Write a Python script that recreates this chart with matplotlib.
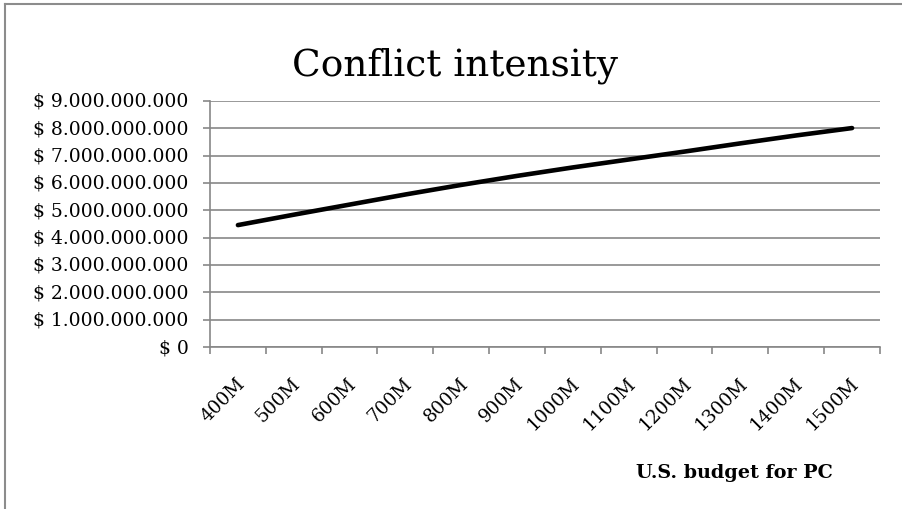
import matplotlib
matplotlib.use("Agg")
import matplotlib.pyplot as plt
from matplotlib.ticker import FuncFormatter, FixedLocator
from matplotlib.transforms import ScaledTranslation
from matplotlib.lines import Line2D

categories = ["400M", "500M", "600M", "700M", "800M", "900M", "1000M",
              "1100M", "1200M", "1300M", "1400M", "1500M"]
conflict_cost = [4.46e9, 4.84e9, 5.21e9, 5.58e9, 5.93e9, 6.26e9, 6.57e9,
                 6.86e9, 7.15e9, 7.45e9, 7.74e9, 8.01e9]
y_ticks = [0, 1e9, 2e9, 3e9, 4e9, 5e9, 6e9, 7e9, 8e9, 9e9]
title = "Conflict intensity"
x_title = "U.S. budget for PC"

plt.rcParams['font.family'] = ['DejaVu Serif']
GRAY = "#878787"

W, H, DPI = 903, 510, 100
fig = plt.figure(figsize=(W / DPI, H / DPI), dpi=DPI)
ax = fig.add_axes([210 / W, 1 - 348 / H, 670 / W, 246 / H])

x = list(range(len(categories)))
ax.plot(x, conflict_cost, color="black", linewidth=3.3, solid_capstyle="round")

ax.set_xlim(-0.5, len(categories) - 0.5)
ax.set_ylim(0, 9e9)

ax.set_yticks(y_ticks)
ax.yaxis.set_major_formatter(FuncFormatter(lambda v, p: "$ " + f"{int(round(v)):,}".replace(",", ".")))
ax.grid(axis="y", color=GRAY, linewidth=1.2)
ax.set_axisbelow(True)

ax.set_xticks(x, labels=categories, rotation=45, ha="right", va="center",
              rotation_mode="anchor")
ax.xaxis.set_minor_locator(FixedLocator([i - 0.5 for i in range(len(categories) + 1)]))
ax.tick_params(axis="x", which="major", length=0, pad=23.5, labelsize=13.3)
ax.tick_params(axis="x", which="minor", length=5, width=1.2, color=GRAY, direction="out")
ax.tick_params(axis="y", length=5, width=1.2, color=GRAY, pad=10.5, labelsize=13.5)
for lab in ax.get_xticklabels():
    lab.set_transform(lab.get_transform() + ScaledTranslation(4 / DPI, 0, fig.dpi_scale_trans))
for lab in ax.get_yticklabels():
    lab.set_transform(lab.get_transform() + ScaledTranslation(0, 2 / DPI, fig.dpi_scale_trans))

for s in ["top", "right"]:
    ax.spines[s].set_visible(False)
for s in ["left", "bottom"]:
    ax.spines[s].set_color(GRAY)
    ax.spines[s].set_linewidth(1.2)

fig.text(455 / W, 1 - 75 / H, title, ha="center", va="baseline", fontsize=27)
fig.text(734 / W, 1 - 478 / H, x_title, ha="center", va="baseline", fontsize=13.8,
         fontweight="bold")

# chart area border (top and left edges visible)
fig.add_artist(Line2D([5 / W, 5 / W], [0, 1 - 5 / H], color="#8c8c8c", linewidth=1.5,
                      transform=fig.transFigure))
fig.add_artist(Line2D([5 / W, 1], [1 - 5 / H, 1 - 5 / H], color="#8c8c8c", linewidth=1.5,
                      transform=fig.transFigure))

fig.savefig("out.png", dpi=DPI)
